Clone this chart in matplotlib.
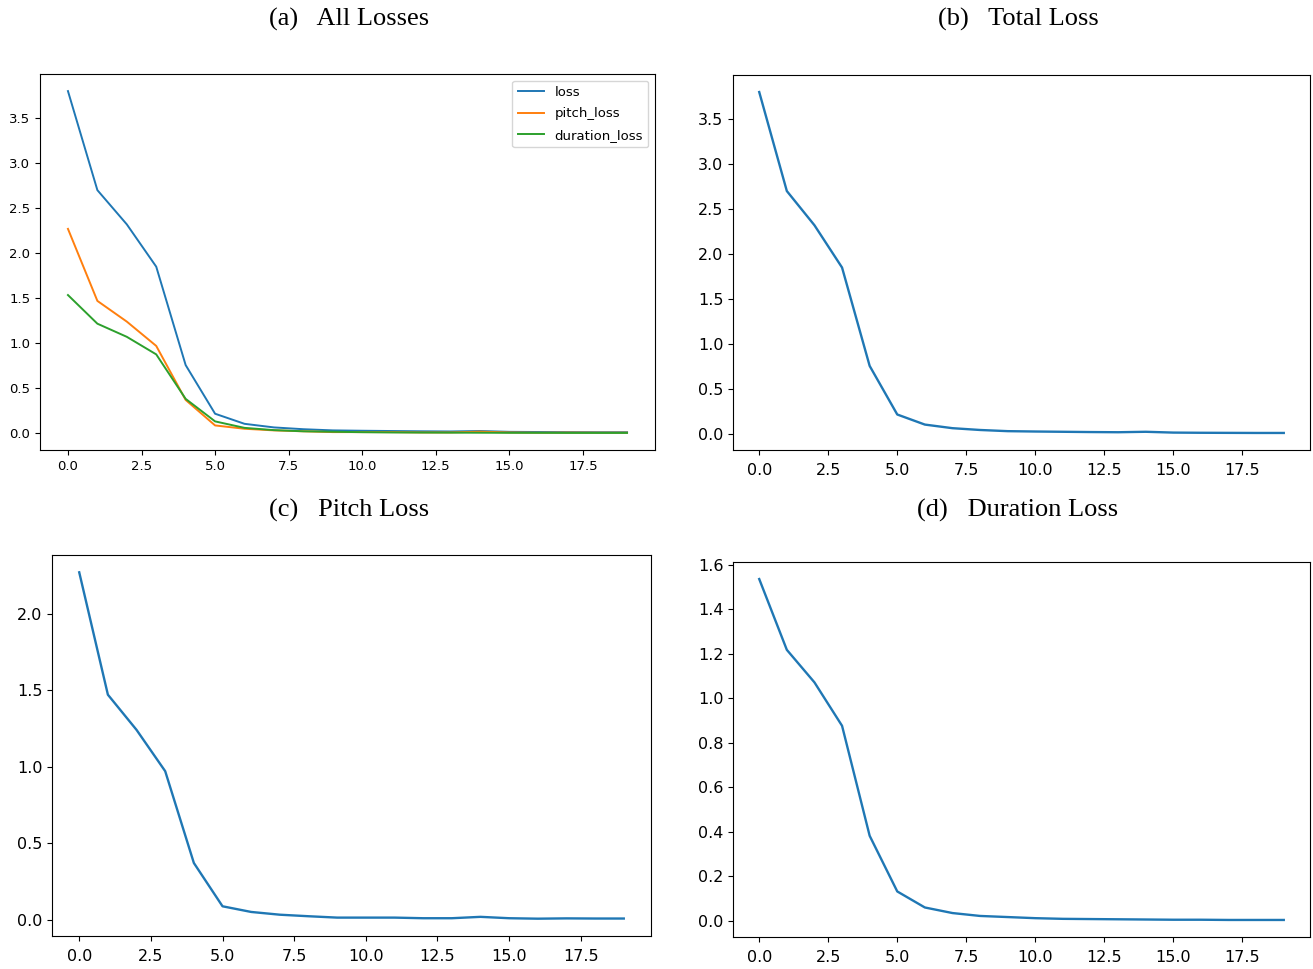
import matplotlib
matplotlib.use("Agg")
import matplotlib.pyplot as plt

# training epochs 0..19
epochs = list(range(20))

loss = [3.80, 2.70, 2.32, 1.85, 0.757, 0.217, 0.105, 0.065, 0.045, 0.032,
        0.028, 0.025, 0.022, 0.020, 0.025, 0.016, 0.014, 0.013, 0.012, 0.012]
pitch_loss = [2.27, 1.47, 1.24, 0.97, 0.37, 0.087, 0.050, 0.032, 0.022, 0.013,
              0.013, 0.013, 0.009, 0.009, 0.018, 0.009, 0.006, 0.008, 0.007, 0.007]
duration_loss = [1.535, 1.217, 1.071, 0.876, 0.382, 0.132, 0.060, 0.035, 0.022, 0.017,
                 0.012, 0.009, 0.008, 0.007, 0.006, 0.005, 0.005, 0.004, 0.004, 0.004]

titles = ["(a)   All Losses", "(b)   Total Loss", "(c)   Pitch Loss", "(d)   Duration Loss"]

W, H = 1313, 969
fig = plt.figure(figsize=(W / 100, H / 100), dpi=100)


def box(left, top, right, bottom):
    # pixel box -> figure fraction
    return [left / W, 1 - bottom / H, (right - left) / W, (bottom - top) / H]


# (a) all three curves, smaller fonts
ax_a = fig.add_axes(box(40, 74, 655, 450))
ax_a.plot(epochs, loss, lw=1.4, label="loss")
ax_a.plot(epochs, pitch_loss, lw=1.4, label="pitch_loss")
ax_a.plot(epochs, duration_loss, lw=1.4, label="duration_loss")
ax_a.tick_params(labelsize=9.5)
ax_a.legend(loc="upper right", fontsize=9.5, labelspacing=0.65)

# (b) total loss
ax_b = fig.add_axes(box(733, 75, 1310, 450))
ax_b.plot(epochs, loss, lw=1.7)

# (c) pitch loss
ax_c = fig.add_axes(box(52, 555, 651, 936))
ax_c.plot(epochs, pitch_loss, lw=1.7)

# (d) duration loss
ax_d = fig.add_axes(box(733, 562, 1310, 937))
ax_d.plot(epochs, duration_loss, lw=1.7)

for ax in (ax_b, ax_c, ax_d):
    ax.tick_params(labelsize=11.5)
    ax.tick_params(axis="x", pad=6)

# subfigure captions
caption_pos = [(349, 19), (1018, 19), (349, 510), (1018, 510)]
for t, (cx, cy) in zip(titles, caption_pos):
    fig.text(cx / W, 1 - cy / H, t, ha="center", va="center",
             family="Liberation Serif", fontsize=19)

fig.savefig("out.png", dpi=100)
